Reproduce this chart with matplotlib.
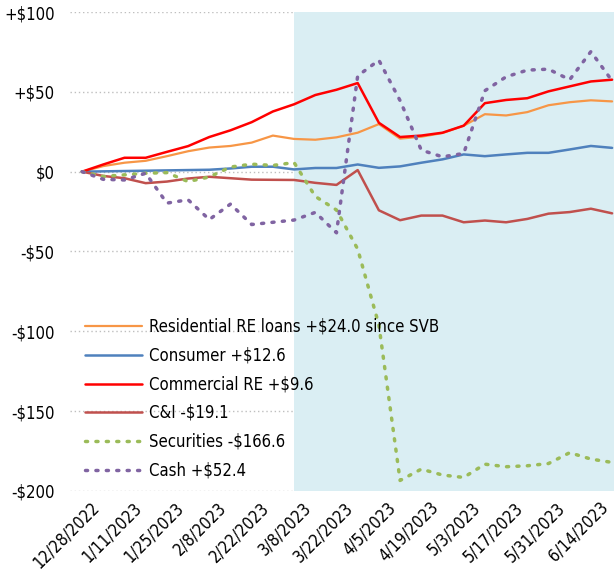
import numpy as np
import matplotlib.pyplot as plt
import matplotlib.transforms as mtransforms

plt.rcParams['font.family'] = ['DejaVu Sans']
plt.rcParams['font.stretch'] = 'condensed'

# weekly points, 12/21/2022 .. 6/14/2023, change in $bn
tick_labels = ["12/28/2022", "1/11/2023", "1/25/2023", "2/8/2023", "2/22/2023",
               "3/8/2023", "3/22/2023", "4/5/2023", "4/19/2023", "5/3/2023",
               "5/17/2023", "5/31/2023", "6/14/2023"]

residential = [0, 3.5, 5.6, 6.8, 9.7, 12.8, 15.1, 16.1, 18.2, 22.6, 20.5, 20.0, 21.5,
               24.4, 29.8, 20.7, 21.9, 24.2, 28.8, 36.0, 35.2, 37.3, 41.6, 43.5, 44.7, 44.0]
consumer = [0, 0.2, 0.4, 0.6, 0.8, 1.0, 1.2, 2.0, 3.1, 3.1, 1.4, 2.3, 2.3,
            4.5, 2.4, 3.3, 5.6, 7.7, 10.8, 9.7, 10.8, 11.8, 11.8, 13.9, 16.1, 14.9]
commercial = [0, 4.5, 8.7, 8.7, 12.4, 16.0, 21.7, 25.9, 31.0, 37.7, 42.2, 48.0, 51.3,
              55.5, 30.6, 21.7, 22.6, 24.4, 28.8, 42.9, 44.9, 46.0, 50.3, 53.4, 56.5, 57.6]
c_and_i = [0, -2.7, -4.1, -7.2, -6.2, -4.3, -3.2, -4.1, -5.0, -5.1, -5.2, -7.0, -8.3,
           1.0, -24.2, -30.4, -27.5, -27.5, -31.7, -30.6, -31.7, -29.6, -26.3, -25.3, -23.2, -26.1]
securities = [0, -3.0, -2.0, -1.0, -0.6, -6.2, -3.3, 2.9, 4.7, 3.9, 5.7, -15.5, -24.0,
              -48.5, -96.0, -193.4, -186.3, -190.0, -191.5, -183.2, -184.8, -184.2, -182.8, -176.0, -180.0, -182.1]
cash = [0, -4.8, -5.2, -1.0, -19.7, -17.6, -30.0, -20.3, -33.1, -31.7, -30.3, -25.5, -38.3,
        60.0, 69.8, 44.5, 13.5, 9.3, 11.4, 50.7, 59.4, 63.6, 64.2, 57.6, 75.2, 56.9]

series = [
    ("Residential RE loans +$24.0 since SVB", residential, '#F79646', '-', 1.6),
    ("Consumer +$12.6", consumer, '#4F81BD', '-', 1.8),
    ("Commercial RE +$9.6", commercial, '#FF0000', '-', 1.8),
    ("C&I -$19.1", c_and_i, '#C0504D', '-', 1.8),
    ("Securities -$166.6", securities, '#9BBB59', (0, (0.6, 2.4)), 2.5),
    ("Cash +$52.4", cash, '#8064A2', (0, (0.6, 2.4)), 2.5),
]

yticks = [100, 50, 0, -50, -100, -150, -200]
ylabels = ["+$100", "+$50", "$0", "-$50", "-$100", "-$150", "-$200"]

fig = plt.figure(figsize=(6.14, 5.77), dpi=100)
ax = fig.add_axes([70 / 614, 1 - 491 / 577, 544 / 614, 479 / 577])

x = np.arange(len(residential))
ax.set_xlim(-0.57, 25.09)
ax.set_ylim(-200, 100)

for y in yticks:
    ax.axhline(y, color='#BFBFBF', ls=(0, (1, 2)), lw=1, zorder=0)

# post-SVB period
ax.axvspan(10, 25.09, color='#DAEEF3', lw=0, zorder=1)

for name, vals, col, ls, lw in series:
    ax.plot(x, vals, color=col, ls=ls, lw=lw, label=name,
            solid_capstyle='round', dash_capstyle='round', zorder=3)

for s in ax.spines.values():
    s.set_visible(False)

ax.set_yticks(yticks)
ax.set_yticklabels(ylabels, fontsize=12)
ax.set_xticks(x[1::2])
ax.set_xticklabels(tick_labels, fontsize=12, rotation=45, ha='right', va='center',
                   rotation_mode='anchor')
ax.tick_params(axis='y', length=0, pad=11)
ax.tick_params(axis='x', length=0, pad=10)

# nudge the slanted labels left so the ends sit on the ticks
shift = mtransforms.ScaledTranslation(-0.07, 0, fig.dpi_scale_trans)
for lab in ax.get_xticklabels():
    lab.set_transform(lab.get_transform() + shift)

ax.legend(loc='upper left', bbox_to_anchor=(15 / 544, (491 - 318) / 479),
          frameon=False, fontsize=12, handlelength=3.4, handletextpad=0.45,
          labelspacing=0.64, borderpad=0, borderaxespad=0)

fig.savefig('out.png', dpi=100)
